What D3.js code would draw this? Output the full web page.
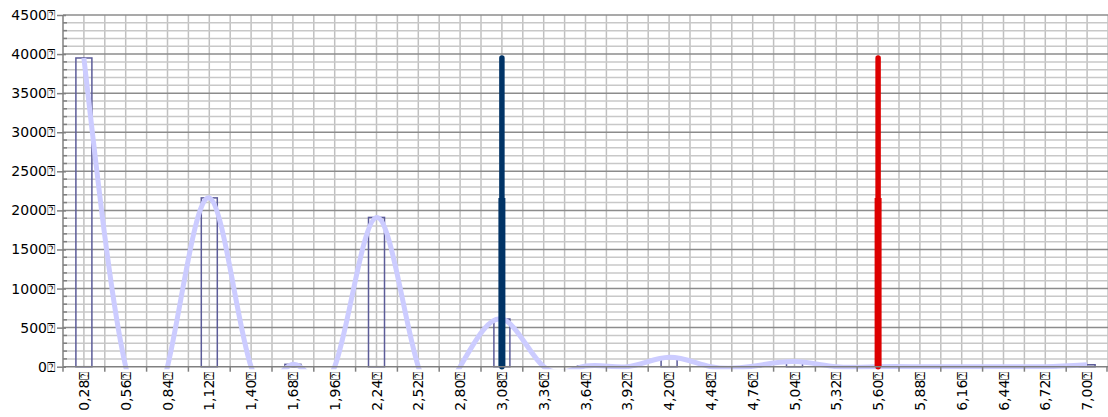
<!DOCTYPE html>
<html>
<head>
<meta charset="utf-8">
<script src="https://cdn.jsdelivr.net/npm/d3@7"></script>
<style>
  body { margin: 0; background: #fff; }
  text { font-family: "DejaVu Sans", sans-serif; font-size: 14px; fill: #000; }
</style>
</head>
<body>
<div id="chart"></div>
<script>
// bins (category labels) and counts
const categories = ["0,28", "0,56", "0,84", "1,12", "1,40", "1,68", "1,96", "2,24", "2,52", "2,80",
    "3,08", "3,36", "3,64", "3,92", "4,20", "4,48", "4,76", "5,04", "5,32", "5,60",
    "5,88", "6,16", "6,44", "6,72", "7,00"];
const counts = [3950, 0, 0, 2160, 0, 30, 0, 1910, 0, 0,
    610, 0, 8, 0, 120, 0, 5, 65, 0, 0,
    0, 0, 0, 0, 25];
const yTicks = [0, 500, 1000, 1500, 2000, 2500, 3000, 3500, 4000, 4500];

// vertical marker lines
const markerCats = ["3,08", "5,60"];
const markerTop = [3950, 3950];
const markerMid = [2160, 2160];
const markerColors = ["#003366", "#dd0000"];

const suffix = "\u2370";

const W = 1108, H = 417;
const margin = { top: 15, right: 0, bottom: 50, left: 63 };
const plotRight = 1108;
const plotBottom = 366.7;

const svg = d3.select("#chart")
    .append("svg")
    .attr("width", W)
    .attr("height", H);

const x = d3.scaleBand()
    .domain(categories)
    .range([margin.left, plotRight]);

const y = d3.scaleLinear()
    .domain([0, 4500])
    .range([plotBottom, margin.top]);

// grid
const grid = svg.append("g");
const bw = x.bandwidth();
const vLines = [];
categories.forEach(c => { vLines.push(x(c)); vLines.push(x(c) + bw / 2); });
vLines.push(plotRight);
grid.selectAll(".vg")
    .data(vLines.filter(v => v > margin.left + 1))
    .enter().append("line")
    .attr("x1", d => d).attr("x2", d => d)
    .attr("y1", margin.top).attr("y2", plotBottom)
    .attr("stroke", "#c0c0c0")
    .attr("stroke-width", 1.5);

const minor = d3.range(100, 4500, 100).filter(v => v % 500 !== 0);
grid.selectAll(".hm")
    .data(minor)
    .enter().append("line")
    .attr("x1", margin.left).attr("x2", plotRight)
    .attr("y1", d => y(d)).attr("y2", d => y(d))
    .attr("stroke", "#c8c8c8")
    .attr("stroke-width", 1.5);

grid.selectAll(".hM")
    .data(yTicks.slice(1))
    .enter().append("line")
    .attr("x1", margin.left).attr("x2", plotRight)
    .attr("y1", d => y(d)).attr("y2", d => y(d))
    .attr("stroke", "#8c8c8c")
    .attr("stroke-width", 1.5);

// bars (outline only)
const barW = 16;
svg.selectAll(".bar")
    .data(categories.map((c, i) => ({ c, v: counts[i] })).filter(d => d.v > 0))
    .enter().append("rect")
    .attr("x", d => x(d.c) + bw / 2 - barW / 2)
    .attr("y", d => y(d.v))
    .attr("width", barW)
    .attr("height", d => plotBottom - y(d.v))
    .attr("fill", "none")
    .attr("stroke", "#5c5c99")
    .attr("stroke-width", 1.5);

// smoothed line
svg.append("clipPath").attr("id", "clip")
    .append("rect")
    .attr("x", 0).attr("y", 0)
    .attr("width", W).attr("height", plotBottom + 2.5);

const line = d3.line()
    .x((d, i) => x(categories[i]) + bw / 2)
    .y(d => y(d))
    .curve(d3.curveNatural);

svg.append("path")
    .datum(counts)
    .attr("clip-path", "url(#clip)")
    .attr("d", line)
    .attr("fill", "none")
    .attr("stroke", "#ccccff")
    .attr("stroke-width", 5);

// markers
markerCats.forEach((c, i) => {
    const cx = x(c) + bw / 2;
    svg.append("line")
        .attr("x1", cx).attr("x2", cx)
        .attr("y1", plotBottom).attr("y2", y(markerTop[i]))
        .attr("stroke", markerColors[i])
        .attr("stroke-width", 5.5)
        .attr("stroke-linecap", "round");
    svg.append("line")
        .attr("x1", cx).attr("x2", cx)
        .attr("y1", plotBottom).attr("y2", y(markerMid[i]))
        .attr("stroke", markerColors[i])
        .attr("stroke-width", 7);
});

// axes
const yAxis = svg.append("g")
    .attr("transform", `translate(${margin.left},0)`)
    .call(d3.axisLeft(y).tickValues(yTicks).tickSize(6).tickFormat(d => d + suffix));
yAxis.select(".domain").remove();
yAxis.selectAll(".tick line").attr("x2", -6).attr("x1", 3).attr("stroke", "#808080").attr("stroke-width", 1.5);
yAxis.selectAll(".tick text").attr("x", -8).style("font-size", "14px").style("font-family", "DejaVu Sans");

svg.append("g").selectAll("line")
    .data(minor)
    .enter().append("line")
    .attr("x1", margin.left).attr("x2", margin.left + 4)
    .attr("y1", d => y(d)).attr("y2", d => y(d))
    .attr("stroke", "#808080").attr("stroke-width", 1.5);

svg.append("line")
    .attr("x1", margin.left).attr("x2", margin.left)
    .attr("y1", margin.top).attr("y2", plotBottom)
    .attr("stroke", "#808080").attr("stroke-width", 1.5);

svg.append("line")
    .attr("x1", margin.left).attr("x2", plotRight)
    .attr("y1", plotBottom).attr("y2", plotBottom)
    .attr("stroke", "#808080").attr("stroke-width", 1.5);

// x ticks at band boundaries
svg.append("g").selectAll("line")
    .data(categories.map(c => x(c)).concat([plotRight - 1]))
    .enter().append("line")
    .attr("x1", d => d).attr("x2", d => d)
    .attr("y1", plotBottom).attr("y2", plotBottom + 5)
    .attr("stroke", "#808080").attr("stroke-width", 1.5);

svg.append("g").selectAll("text")
    .data(categories)
    .enter().append("text")
    .attr("transform", d => `translate(${x(d) + bw / 2 + 5},${plotBottom + 5}) rotate(-90)`)
    .attr("text-anchor", "end")
    .text(d => d + suffix);
</script>
</body>
</html>
